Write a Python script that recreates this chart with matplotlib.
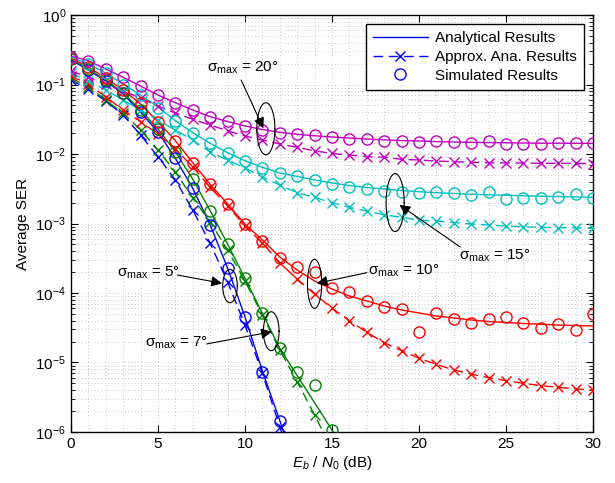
import numpy as np
import matplotlib
matplotlib.use("Agg")
import matplotlib.pyplot as plt
from matplotlib.lines import Line2D
from matplotlib.patches import FancyArrowPatch
from matplotlib.ticker import NullFormatter, LogLocator

plt.rcParams['font.family'] = ['Liberation Sans', 'DejaVu Sans']
plt.rcParams['mathtext.fontset'] = 'custom'
plt.rcParams['mathtext.rm'] = 'Liberation Sans'
plt.rcParams['mathtext.it'] = 'Liberation Sans:italic'
plt.rcParams['mathtext.bf'] = 'Liberation Sans:bold'

# ---------------- data (Eb/N0 in dB, SER) ----------------
sigmas = [5, 7, 10, 15, 20]
colors = {5: (0, 0, 1), 7: (0, 0.5, 0), 10: (1, 0, 0), 15: (0, 0.75, 0.75), 20: (0.75, 0, 0.75)}

# Analytical results
ana_5 = [0.2252, 0.1617, 0.1123, 0.0730, 0.0402, 0.02073, 0.00867, 0.00321, 0.000952,
         0.000229, 4.56e-5, 7.54e-6, 1.46e-6, 2.66e-7]
ana_7 = [0.2328, 0.1671, 0.1161, 0.0754, 0.0430, 0.0229, 0.01079, 0.00433, 0.00153,
         0.000507, 0.000163, 5.10e-5, 1.60e-5, 6.50e-6, 2.64e-6, 1.07e-6, 4.23e-7]
ana_10 = [0.2405, 0.1786, 0.1241, 0.0833, 0.0524, 0.0292, 0.01554, 0.00750, 0.00366,
          0.00191, 0.000984, 0.000579, 0.000330, 0.000214, 0.000149, 0.000114, 9.06e-5,
          7.67e-5, 6.50e-5, 5.69e-5, 5.16e-5, 4.67e-5, 4.37e-5, 4.09e-5, 3.89e-5, 3.76e-5,
          3.64e-5, 3.55e-5, 3.46e-5, 3.41e-5, 3.35e-5]
ana_15 = [0.2487, 0.1972, 0.1464, 0.1017, 0.0706, 0.0475, 0.0301, 0.02025, 0.01426,
          0.01044, 0.00801, 0.00644, 0.00533, 0.00475, 0.00423, 0.00383, 0.00352, 0.00330,
          0.00314, 0.00298, 0.00287, 0.00278, 0.00270, 0.00264, 0.00259, 0.00255, 0.00251,
          0.00247, 0.00244, 0.00241, 0.00238]
ana_20 = [0.257, 0.220, 0.167, 0.127, 0.0951, 0.0706, 0.0547, 0.0430, 0.0344, 0.0294,
          0.0253, 0.0225, 0.0205, 0.0192, 0.0183, 0.0176, 0.0170, 0.0164, 0.0160, 0.0156,
          0.0154, 0.0151, 0.0149, 0.0147, 0.0146, 0.0145, 0.0144, 0.0143, 0.0143, 0.01426,
          0.0142]

# Approximate analytical results
apx_5 = [0.1161, 0.0862, 0.0579, 0.0364, 0.01877, 0.00915, 0.00423, 0.00156, 0.000519,
         0.000145, 3.46e-5, 6.99e-6, 1.19e-6, 2.04e-7]
apx_7 = [0.1241, 0.0930, 0.0598, 0.0385, 0.02215, 0.01142, 0.00551, 0.00233, 0.00105,
         0.000416, 0.000149, 4.83e-5, 1.51e-5, 5.30e-6, 1.76e-6, 5.51e-7]
apx_10 = [0.1326, 0.1017, 0.0661, 0.0430, 0.0292, 0.0194, 0.0118, 0.00650, 0.00332,
          0.00179, 0.000921, 0.000524, 0.000273, 0.000158, 9.68e-5, 6.03e-5, 4.00e-5,
          2.72e-5, 1.93e-5, 1.48e-5, 1.15e-5, 9.42e-6, 7.80e-6, 6.83e-6, 6.05e-6, 5.47e-6,
          5.02e-6, 4.64e-6, 4.40e-6, 4.16e-6, 4.02e-6]
apx_15 = [0.146, 0.112, 0.0833, 0.0598, 0.0430, 0.0308, 0.0221, 0.0159, 0.0107, 0.0082,
          0.00629, 0.00467, 0.00358, 0.00277, 0.00238, 0.00199, 0.00171, 0.00151, 0.00133,
          0.00123, 0.00112, 0.00109, 0.00103, 0.000984, 0.000951, 0.000920, 0.000899,
          0.000881, 0.000871, 0.000866, 0.000853]
apx_20 = [0.156, 0.128, 0.102, 0.0806, 0.0640, 0.0491, 0.0389, 0.0316, 0.0261, 0.0216,
          0.0182, 0.0159, 0.0139, 0.0125, 0.0111, 0.0102, 0.00968, 0.00915, 0.00897,
          0.00839, 0.00820, 0.00793, 0.00775, 0.00760, 0.00750, 0.00745, 0.00742, 0.00735,
          0.00735, 0.00732, 0.00730]

# Simulated results
sim_5 = [0.2405, 0.1617, 0.1123, 0.0747, 0.0402, 0.02094, 0.00867, 0.00321, 0.000952,
         0.000227, 4.56e-5, 7.37e-6, 1.43e-6]
sim_7 = [0.2328, 0.1671, 0.1161, 0.0754, 0.0430, 0.0229, 0.01079, 0.00433, 0.00153,
         0.000507, 0.000163, 5.10e-5, 1.60e-5, 7.37e-6, 4.75e-6, 1.07e-6]
sim_10 = [0.2405, 0.181, 0.124, 0.0833, 0.0536, 0.0292, 0.0155, 0.0075, 0.00366, 0.00191,
          0.000984, 0.000560, 0.000316, 0.000239, 0.000202, 0.000118, 0.000102, 7.67e-5,
          6.35e-5, 5.94e-5, 2.72e-5, 5.10e-5, 4.19e-5, 3.74e-5, 4.27e-5, 4.52e-5, 3.66e-5,
          3.10e-5, 3.58e-5, 2.94e-5, 4.99e-5]
sim_15 = [0.2487, 0.1972, 0.1464, 0.0984, 0.0706, 0.0455, 0.0301, 0.0202, 0.01426,
          0.01044, 0.00801, 0.00622, 0.00528, 0.00488, 0.00423, 0.00367, 0.00338, 0.00314,
          0.00294, 0.00287, 0.00277, 0.00281, 0.00272, 0.00257, 0.00287, 0.00225, 0.00230,
          0.00230, 0.00243, 0.00263, 0.00235]
sim_20 = [0.252, 0.220, 0.167, 0.127, 0.0951, 0.0706, 0.0547, 0.0430, 0.0344, 0.0299,
          0.0253, 0.0222, 0.0203, 0.0192, 0.0188, 0.0177, 0.0163, 0.0163, 0.0155, 0.0155,
          0.0150, 0.0154, 0.0147, 0.0145, 0.0155, 0.0139, 0.0139, 0.0139, 0.0143, 0.0143,
          0.0143]

ana = {5: ana_5, 7: ana_7, 10: ana_10, 15: ana_15, 20: ana_20}
apx = {5: apx_5, 7: apx_7, 10: apx_10, 15: apx_15, 20: apx_20}
sim = {5: sim_5, 7: sim_7, 10: sim_10, 15: sim_15, 20: sim_20}

# annotations: label, text pos, arrow tail, arrow head, ellipse centre, half-width (dB), half-height (decades)
annots = [
    (20, (7.80, 0.151), (9.78, 0.116), (11.06, 0.0234), (11.2, 0.0231), 0.52, 0.374),
    (15, (22.31, 2.98e-4), (22.37, 4.59e-4), (18.88, 0.00185), (18.63, 0.00200), 0.52, 0.417),
    (10, (17.08, 1.815e-4), (17.0, 1.96e-4), (14.13, 1.378e-4), (14.0, 1.356e-4), 0.41, 0.353),
    (5, (2.65, 1.72e-4), (6.11, 1.815e-4), (8.68, 1.38e-4), (9.14, 1.26e-4), 0.42, 0.24),
    (7, (4.25, 1.69e-5), (7.8, 1.85e-5), (11.54, 2.77e-5), (11.51, 2.82e-5), 0.45, 0.28),
]

# ---------------- plot ----------------
fig = plt.figure(figsize=(6.15, 4.83), dpi=100)
ax = fig.add_axes([0.1154, 0.1056, 0.8488, 0.8633])
ax.set_yscale('log')

for s in sigmas:
    c = colors[s]
    y = ana[s]
    ax.plot(np.arange(len(y)), y, '-', color=c, lw=1.0, zorder=3)
    y = apx[s]
    ax.plot(np.arange(len(y)), y, '--', color=c, lw=1.0, marker='x', ms=6.5, mew=1.0,
            dashes=(7, 4), zorder=3)
    y = sim[s]
    ax.plot(np.arange(len(y)), y, 'o', color=c, ms=8, mfc='none', mew=1.0, zorder=4)

for s, tpos, tail, head, ec, rx, ry in annots:
    arr = FancyArrowPatch(tail, head, arrowstyle='-|>', color='k', lw=0.8,
                          mutation_scale=16, shrinkA=0, shrinkB=0, zorder=6)
    ax.add_patch(arr)
    ax.text(tpos[0], tpos[1], r'$\mathregular{\sigma_{max}}$ = %d°' % s, fontsize=11,
            ha='left', va='baseline', zorder=6)
    t = np.linspace(0, 2 * np.pi, 200)
    ax.plot(ec[0] + rx * np.cos(t), ec[1] * 10 ** (ry * np.sin(t)), color='k', lw=0.8, zorder=6)

ax.set_xlim(0, 30)
ax.set_ylim(1e-6, 1)
ax.set_xticks(np.arange(0, 31, 5))
ax.set_xticks(np.arange(0, 31, 1), minor=True)
ax.yaxis.set_major_locator(LogLocator(base=10, numticks=10))
ax.yaxis.set_minor_locator(LogLocator(base=10, subs=np.arange(2, 10), numticks=10))
ax.xaxis.set_minor_formatter(NullFormatter())
ax.yaxis.set_minor_formatter(NullFormatter())
ax.tick_params(which='both', direction='in', top=True, right=True, labelsize=11)
ax.tick_params(which='major', length=5, width=0.8)
ax.tick_params(which='minor', length=3, width=0.6)
ax.tick_params(axis='x', which='minor', length=0)
ax.grid(True, which='both', color=(0.7, 0.7, 0.7), linestyle=(0, (1, 3)), lw=0.6)
for sp in ax.spines.values():
    sp.set_linewidth(1.0)

ax.set_xlabel(r'$E_b$ / $N_0$ (dB)', fontsize=11, labelpad=2)
ax.set_ylabel('Average SER', fontsize=11, labelpad=4)

handles = [
    Line2D([], [], color='b', lw=1.0),
    Line2D([], [], color='b', lw=1.0, ls='--', marker='x', ms=6.5, dashes=(7, 4)),
    Line2D([], [], color='b', ls='none', marker='o', mfc='none', ms=8),
]
leg = ax.legend(handles, ['Analytical Results', 'Approx. Ana. Results', 'Simulated Results'],
                loc='upper right', fontsize=11, fancybox=False, framealpha=1, edgecolor='k',
                handlelength=3.6, borderaxespad=0.6, labelspacing=0.32, handletextpad=0.5,
                borderpad=0.45)
leg.get_frame().set_linewidth(1.0)

fig.savefig('out.png', dpi=100)
